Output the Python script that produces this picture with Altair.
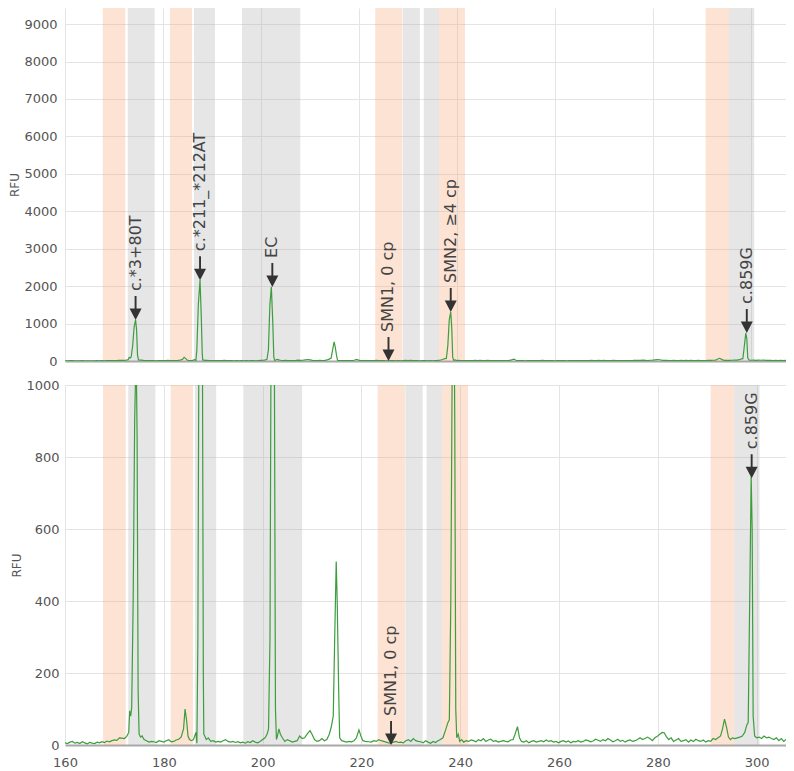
import altair as alt
import pandas as pd

FONT = "DejaVu Sans"

# ---- electropherogram trace (size in bp, signal in RFU) ----
SIZE = [
    160.0, 160.5, 161.0, 161.5, 162.0, 162.5, 163.0, 163.5, 164.0, 164.5,
    165.0, 165.5, 166.0, 166.5, 167.0, 167.5, 168.0, 168.5, 169.0, 169.5,
    170.0, 170.5, 171.0, 171.5, 172.0, 172.5, 172.9, 173.1, 173.3, 173.5,
    173.8, 174.1, 174.4, 174.6, 174.8, 175.0, 175.3, 175.6, 176.0, 176.5,
    177.0, 177.5, 178.0, 178.5, 179.0, 179.5, 180.0, 180.5, 181.0, 181.5,
    182.0, 182.5, 183.0, 183.5, 184.0, 184.3, 184.6, 184.9, 185.2, 185.6,
    186.0, 186.5, 186.7, 186.9, 187.2, 187.55, 187.8, 188.0, 188.1, 188.3,
    188.6, 189.0, 189.5, 190.0, 190.5, 191.0, 191.5, 192.0, 192.5, 193.0,
    193.5, 194.0, 194.5, 195.0, 195.5, 196.0, 196.5, 197.0, 197.5, 198.0,
    198.5, 199.0, 199.5, 200.0, 200.5, 200.9, 201.2, 201.5, 201.8, 202.1,
    202.4, 202.6, 202.8, 203.0, 203.3, 203.6, 204.0, 204.5, 205.0, 205.5,
    206.0, 206.5, 207.0, 207.5, 208.0, 208.5, 209.0, 209.6, 210.0, 210.5,
    211.0, 211.5, 212.0, 212.5, 213.0, 213.5, 213.9, 214.3, 214.6, 214.9,
    215.1, 215.4, 215.6, 216.0, 216.5, 217.0, 217.5, 218.0, 218.5, 219.0,
    219.5, 219.9, 220.3, 220.8, 221.5, 222.0, 222.5, 223.0, 223.5, 224.0,
    224.5, 225.0, 225.5, 226.0, 226.5, 227.0, 227.5, 228.0, 228.5, 229.0,
    229.5, 230.0, 230.5, 231.0, 231.5, 232.0, 232.5, 233.0, 233.5, 234.0,
    234.5, 235.0, 235.5, 236.0, 236.5, 237.0, 237.5, 237.8, 238.1, 238.4,
    238.7, 238.9, 239.1, 239.3, 239.6, 239.9, 240.3, 240.7, 241.2, 241.7,
    242.2, 242.7, 243.2, 243.7, 244.2, 244.7, 245.2, 245.7, 246.2, 246.7,
    247.2, 247.7, 248.2, 248.7, 249.2, 249.7, 250.2, 250.7, 251.1, 251.6,
    252.0, 252.4, 252.9, 253.4, 253.9, 254.4, 254.9, 255.4, 255.9, 256.4,
    256.9, 257.4, 257.9, 258.4, 258.9, 259.4, 259.9, 260.4, 260.9, 261.4,
    261.9, 262.4, 262.9, 263.4, 263.9, 264.4, 264.9, 265.4, 265.9, 266.4,
    266.9, 267.4, 267.9, 268.4, 268.9, 269.4, 269.9, 270.4, 270.9, 271.4,
    271.9, 272.4, 272.9, 273.4, 273.9, 274.4, 274.9, 275.4, 275.9, 276.4,
    276.9, 277.4, 277.9, 278.4, 278.9, 279.4, 279.9, 280.4, 280.9, 281.3,
    281.7, 282.2, 282.7, 283.2, 283.7, 284.2, 284.7, 285.2, 285.7, 286.2,
    286.7, 287.2, 287.7, 288.2, 288.7, 289.2, 289.7, 290.2, 290.7, 291.2,
    291.7, 292.2, 292.7, 293.1, 293.5, 293.9, 294.3, 294.7, 295.1, 295.6,
    296.1, 296.6, 297.1, 297.6, 298.0, 298.3, 298.6, 298.9, 299.1, 299.3,
    299.6, 300.0, 300.5, 301.0, 301.5, 302.0, 302.5, 303.0, 303.5, 304.0,
    304.5, 305.0, 305.5, 306.0, 306.5, 307.0, 307.5,
]
RFU = [
    6, 4, 8, 10, 5, 7, 4, 9, 6, 3,
    7, 5, 4, 8, 6, 9, 7, 11, 9, 12,
    14, 13, 20, 19, 18, 24, 35, 95, 80, 105,
    400, 900, 1100, 850, 150, 30, 22, 25, 15, 12,
    8, 10, 9, 7, 12, 10, 8, 12, 15, 9,
    10, 14, 16, 22, 45, 100, 70, 25, 15, 12,
    15, 35, 5, 300, 1500, 2160, 1200, 200, 30, 25,
    15, 20, 10, 12, 8, 10, 8, 12, 15, 10,
    8, 10, 7, 9, 6, 8, 5, 9, 7, 12,
    8, 6, 10, 15, 20, 30, 45, 300, 1500, 1980,
    1000, 100, 15, 25, 45, 30, 20, 10, 15, 12,
    8, 10, 12, 25, 18, 20, 30, 40, 30, 15,
    10, 12, 18, 12, 15, 30, 50, 80, 300, 510,
    400, 150, 20, 12, 10, 8, 10, 9, 12, 20,
    42, 25, 12, 10, 9, 8, 12, 10, 15, 12,
    10, 8, 6, 5, 8, 10, 7, 8, 6, 12,
    15, 10, 18, 12, 10, 9, 6, 12, 8, 5,
    10, 7, 12, 15, 20, 40, 62, 70, 400, 1100,
    1310, 900, 100, 20, 30, 10, 15, 8, 12, 10,
    14, 12, 9, 15, 12, 18, 10, 14, 16, 10,
    12, 8, 10, 12, 10, 9, 14, 15, 30, 51,
    20, 10, 8, 12, 6, 10, 12, 8, 10, 12,
    9, 14, 10, 12, 8, 10, 6, 10, 12, 8,
    11, 6, 10, 9, 12, 8, 10, 14, 12, 9,
    11, 16, 13, 10, 15, 12, 18, 14, 9, 12,
    16, 10, 13, 8, 12, 14, 10, 12, 15, 20,
    15, 18, 22, 18, 12, 20, 24, 30, 35, 34,
    24, 15, 20, 10, 14, 18, 10, 12, 15, 8,
    14, 10, 16, 12, 10, 14, 8, 12, 10, 18,
    15, 20, 25, 45, 72, 50, 22, 15, 20, 18,
    20, 22, 25, 35, 55, 63, 400, 745, 600, 80,
    25, 20, 22, 18, 25, 20, 22, 18, 15, 20,
    12, 18, 10, 16, 10, 15, 8,
]

# ---- shaded size windows ----
BAND_START = [167.7, 181.4, 223.3, 236.3, 290.7, 172.8, 186.3, 196.1, 228.9, 233.2, 295.5]
BAND_END = [172.3, 185.9, 228.8, 241.6, 295.5, 178.3, 190.6, 208.0, 232.4, 236.3, 300.6]
BAND_KIND = ["orange", "orange", "orange", "orange", "orange",
             "gray", "gray", "gray", "gray", "gray", "gray"]

# ---- peak annotations ----
TOP_LABELS = ["c.*3+80T", "c.*211_*212AT", "EC", "SMN1, 0 cp", "SMN2, \u22654 cp", "c.859G"]
TOP_LABEL_X = [174.4, 187.55, 202.3, 226.0, 238.7, 299.1]
TOP_LABEL_Y = [1095, 2160, 1980, 0, 1310, 750]
BOTTOM_LABELS = ["SMN1, 0 cp", "c.859G"]
BOTTOM_LABEL_X = [226.0, 299.0]
BOTTOM_LABEL_Y = [0, 741]

X_TICKS = [160, 180, 200, 220, 240, 260, 280, 300]
TOP_Y_TICKS = [0, 1000, 2000, 3000, 4000, 5000, 6000, 7000, 8000, 9000]
BOTTOM_Y_TICKS = [0, 200, 400, 600, 800, 1000]

trace = pd.DataFrame({"size": SIZE, "rfu": RFU})
bands = pd.DataFrame({"start": BAND_START, "end": BAND_END, "kind": BAND_KIND})
top_ann = pd.DataFrame({"x": TOP_LABEL_X, "y": TOP_LABEL_Y, "label": TOP_LABELS})
bot_ann = pd.DataFrame({"x": BOTTOM_LABEL_X, "y": BOTTOM_LABEL_Y, "label": BOTTOM_LABELS})

ARROW = "M-0.08,-1 L0.08,-1 L0.08,0.05 L0.5,0.05 L0,1 L-0.5,0.05 L-0.08,0.05 Z"


def panel(width, height, xmax, ymax, yticks, ann, show_x, ypad):
    xs = alt.Scale(domain=[160, xmax], nice=False, zero=False)
    ys = alt.Scale(domain=[0, ymax], nice=False, zero=True)
    x_axis = alt.Axis(
        values=X_TICKS, grid=True, gridColor="#e4e4e4", gridWidth=1,
        labels=show_x, ticks=False, tickSize=0, domain=True,
        domainColor="#a8a8a8", domainWidth=2, title=None, format="d",
        labelOverlap=False, labelFlush=False,
        labelFont=FONT, labelFontSize=13, labelColor="#555555", labelPadding=11,
    )
    y_axis = alt.Axis(
        values=yticks, grid=True, gridColor="#e4e4e4", gridWidth=1,
        ticks=False, tickSize=0, domain=False, title="RFU", format="d",
        labelOverlap=False, labelFlush=False,
        titleFont=FONT, titleFontSize=12, titleFontWeight="normal",
        titleColor="#555555", titlePadding=2,
        labelFont=FONT, labelFontSize=13, labelColor="#555555", labelPadding=ypad,
    )
    band_layer = alt.Chart(bands).mark_rect(opacity=0.3).encode(
        x=alt.X("start:Q", scale=xs, axis=x_axis),
        x2="end:Q",
        y=alt.value(0),
        y2=alt.value(height),
        color=alt.Color("kind:N", scale=alt.Scale(domain=["orange", "gray"],
                                                   range=["#f8a26c", "#acacac"]),
                        legend=None),
    )
    line_layer = alt.Chart(trace).mark_line(
        color="#3d9d3d", strokeWidth=1.2, clip=True
    ).encode(
        x=alt.X("size:Q", scale=xs, axis=x_axis),
        y=alt.Y("rfu:Q", scale=ys, axis=y_axis),
    )
    arrow_layer = alt.Chart(ann).mark_point(
        shape=ARROW, filled=True, size=576, opacity=1, color="#333333",
        strokeWidth=0, yOffset=-12,
    ).encode(
        x=alt.X("x:Q", scale=xs, axis=x_axis),
        y=alt.Y("y:Q", scale=ys, axis=y_axis),
    )
    text_layer = alt.Chart(ann).mark_text(
        angle=270, align="left", baseline="middle", yOffset=-29,
        font=FONT, fontSize=16, color="#444444",
    ).encode(
        x=alt.X("x:Q", scale=xs, axis=x_axis),
        y=alt.Y("y:Q", scale=ys, axis=y_axis),
        text="label:N",
    )
    return alt.layer(band_layer, line_layer, arrow_layer, text_layer).properties(
        width=width, height=height
    )


top = panel(721, 353, 307.1, 9430, TOP_Y_TICKS, top_ann, False, 8)
bottom = panel(721, 360, 305.95, 1000, BOTTOM_Y_TICKS, bot_ann, True, 6)

chart = alt.vconcat(top, bottom, spacing=11).properties(padding=0).configure_view(stroke=None)

chart.save("out.html", embed_options={"renderer": "svg", "actions": False})
